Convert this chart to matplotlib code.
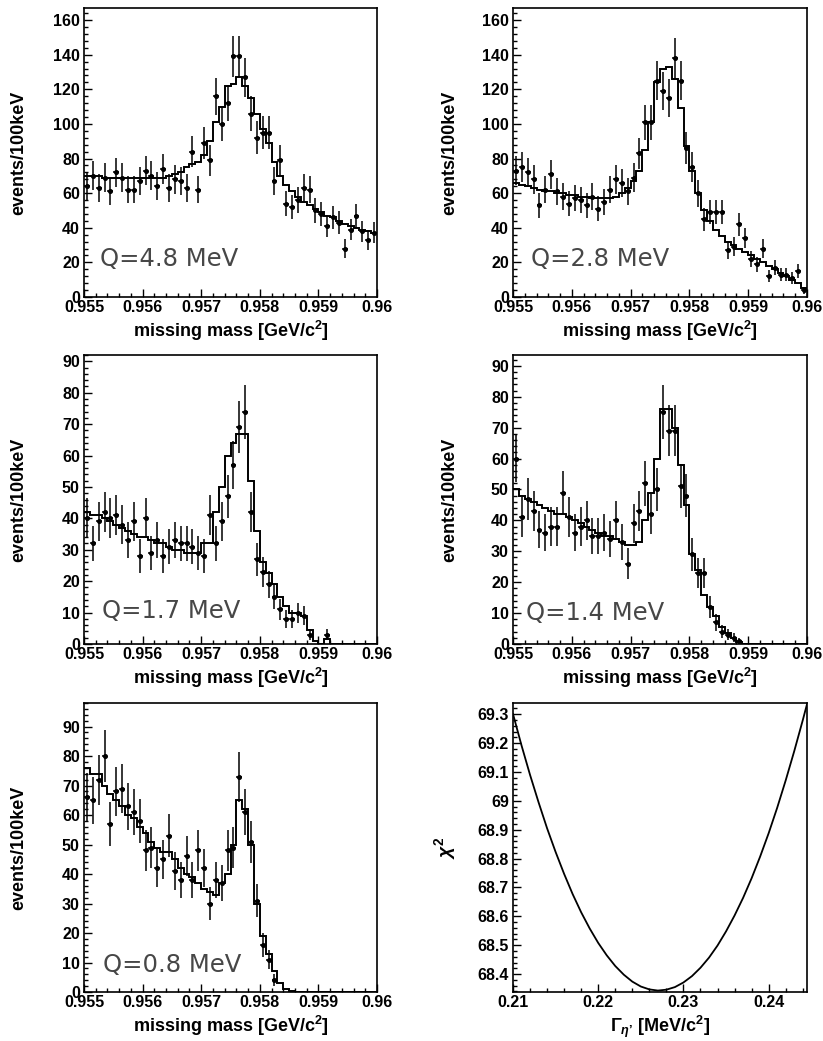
import numpy as np
import matplotlib
matplotlib.use('Agg')
import matplotlib.pyplot as plt
from matplotlib.ticker import MultipleLocator, FuncFormatter

plt.rcParams['font.family'] = ['Liberation Sans', 'DejaVu Sans']
plt.rcParams['mathtext.fontset'] = 'custom'
plt.rcParams['mathtext.rm'] = 'Liberation Sans:bold'
plt.rcParams['mathtext.it'] = 'Liberation Sans:italic:bold'
plt.rcParams['mathtext.bf'] = 'Liberation Sans:bold'

# 100 keV bins from 0.955 to 0.960 GeV/c^2
edges = np.linspace(0.955, 0.960, 51)
centers = 0.5 * (edges[:-1] + edges[1:])

q_labels = ['Q=4.8 MeV', 'Q=2.8 MeV', 'Q=1.7 MeV', 'Q=1.4 MeV', 'Q=0.8 MeV']

# measured counts per bin (0 = empty bin)
data_48 = [64, 70, 63, 69, 61, 72, 69, 62, 62, 67,
           73, 70, 64, 74, 63, 68, 67, 63, 84, 62,
           89, 79, 116, 100, 112, 139, 139, 127, 106, 92,
           95, 95, 67, 79, 54, 52, 56, 63, 62, 50,
           48, 41, 46, 43, 28, 39, 47, 38, 33, 37]
data_28 = [73, 75, 72, 68, 53, 62, 71, 61, 58, 54,
           57, 56, 53, 58, 51, 55, 62, 68, 66, 61,
           69, 83, 101, 101, 125, 119, 115, 138, 125, 86,
           75, 60, 45, 49, 49, 49, 27, 29, 42, 34,
           22, 19, 28, 12, 17, 13, 13, 11, 15, 4]
data_17 = [40, 32, 39, 42, 40, 41, 38, 33, 39, 28,
           40, 29, 33, 28, 31, 33, 32, 32, 31, 29,
           28, 41, 32, 39, 47, 57, 69, 74, 42, 27,
           23, 19, 15, 11, 8, 8, 10, 9, 3, 0,
           0, 3, 0, 0, 0, 0, 0, 0, 0, 0]
data_14 = [60, 41, 47, 43, 37, 36, 38, 38, 49, 41,
           36, 38, 40, 35, 35, 36, 34, 40, 33, 26,
           39, 43, 52, 42, 50, 75, 69, 69, 51, 48,
           29, 23, 23, 12, 7, 4, 3, 2, 1, 0,
           0, 0, 0, 0, 0, 0, 0, 0, 0, 0]
data_08 = [66, 65, 72, 80, 57, 68, 69, 63, 61, 58,
           48, 49, 42, 45, 53, 41, 38, 46, 38, 48,
           42, 30, 38, 37, 48, 49, 73, 61, 51, 31,
           16, 11, 4, 0, 0, 0, 0, 0, 0, 0,
           0, 0, 0, 0, 0, 0, 0, 0, 0, 0]

# fitted / simulated spectra
fit_48 = [70, 70, 70, 69, 69, 69, 69, 69, 69, 69,
          69, 69, 69, 69, 70, 71, 72, 75, 77, 78,
          82, 90, 101, 110, 122, 123, 127, 122, 115, 106,
          97, 89, 78, 70, 65, 61, 58, 55, 53, 51,
          49, 47, 46, 44, 42, 41, 40, 39, 38, 37]
fit_28 = [66, 65, 64, 63, 62, 61, 61, 60, 60, 59,
          59, 58, 58, 57, 57, 57, 57, 58, 60, 63,
          67, 73, 85, 101, 124, 132, 133, 126, 109, 87,
          73, 60, 50, 44, 39, 35, 32, 30, 28, 26,
          24, 22, 20, 18, 16, 14, 12, 10, 8, 5]
fit_17 = [42, 41, 41, 40, 39, 38, 37, 36, 35, 34,
          34, 33, 32, 32, 31, 30, 30, 29, 29, 29,
          32, 32, 42, 50, 60, 64, 67, 67, 52, 36,
          26, 22.5, 19, 15, 12, 10, 10, 9, 4.5, 1,
          0, 1.6, 0, 0, 0, 0, 0, 0, 0, 0]
fit_14 = [50, 48, 47, 46, 45, 44, 43, 42, 42, 41,
          40, 39, 38, 37, 36, 35, 35, 34, 33, 32,
          32, 33, 40, 49, 60, 76, 76, 70, 58, 45,
          29, 24, 16, 12, 9, 5.5, 3.5, 2, 0.7, 0,
          0, 0, 0, 0, 0, 0, 0, 0, 0, 0]
fit_08 = [76, 74, 74, 70, 67, 65, 63, 60, 59, 56,
          54, 51, 49, 47.5, 47.5, 45, 42, 40, 39, 37,
          35, 34, 33, 37, 40, 50, 65, 62, 50, 30,
          19, 13, 7, 3, 1, 0.3, 0, 0, 0, 0,
          0, 0, 0, 0, 0, 0, 0, 0, 0, 0]

# chi^2 scan versus eta' width
gamma = [0.210, 0.211, 0.212, 0.213, 0.214, 0.215, 0.216, 0.217, 0.218,
         0.219, 0.220, 0.221, 0.222, 0.223, 0.224, 0.225, 0.226, 0.227,
         0.228, 0.229, 0.230, 0.231, 0.232, 0.233, 0.234, 0.235, 0.236,
         0.237, 0.238, 0.239, 0.240, 0.241, 0.242, 0.243, 0.244, 0.2445]
chi2 = [69.301, 69.192, 69.090, 68.995, 68.905, 68.823, 68.747, 68.677, 68.614,
        68.558, 68.508, 68.465, 68.428, 68.398, 68.374, 68.357, 68.347, 68.343,
        68.346, 68.355, 68.371, 68.393, 68.422, 68.457, 68.499, 68.548, 68.603,
        68.664, 68.732, 68.807, 68.888, 68.976, 69.071, 69.172, 69.279, 69.335]

datas = [data_48, data_28, data_17, data_14, data_08]
fits = [fit_48, fit_28, fit_17, fit_14, fit_08]
ymaxes = [167, 167, 92, 93.5, 98]
ymajor = [20, 20, 10, 10, 10]
q_pos = [(0.055, 0.107), (0.06, 0.107), (0.06, 0.09), (0.045, 0.083), (0.065, 0.07)]

W, H = 823, 1041
lefts = [84, 513]
widths = [293, 294]
tops = [8, 355, 703]
ax_h = 289


def g_fmt(v, pos):
    return '%g' % round(v, 6)


def style_axis(ax, xmaj, xmin, ymaj, ymin):
    ax.xaxis.set_major_locator(MultipleLocator(xmaj))
    ax.xaxis.set_minor_locator(MultipleLocator(xmin))
    ax.yaxis.set_major_locator(MultipleLocator(ymaj))
    ax.yaxis.set_minor_locator(MultipleLocator(ymin))
    ax.xaxis.set_major_formatter(FuncFormatter(g_fmt))
    ax.yaxis.set_major_formatter(FuncFormatter(g_fmt))
    ax.tick_params(which='both', direction='in', top=False, right=False,
                   width=1.0, labelsize=11.5)
    ax.tick_params(which='major', length=6)
    ax.tick_params(which='minor', length=3)
    ax.tick_params(axis='x', pad=2)
    ax.tick_params(axis='y', pad=3)
    for lab in ax.get_xticklabels() + ax.get_yticklabels():
        lab.set_fontweight('bold')
    for sp in ax.spines.values():
        sp.set_linewidth(1.2)


fig = plt.figure(figsize=(W / 100, H / 100), dpi=100)

for k in range(6):
    row, col = divmod(k, 2)
    rect = [lefts[col] / W, 1 - (tops[row] + ax_h) / H, widths[col] / W, ax_h / H]
    ax = fig.add_axes(rect)

    if k < 5:
        counts = np.array(datas[k], dtype=float)
        ax.stairs(fits[k], edges, baseline=None, color='black', lw=1.4)
        m = counts > 0
        ax.errorbar(centers[m], counts[m], yerr=np.sqrt(counts[m]),
                    xerr=0.00005, fmt='o', ms=2.6, color='black',
                    elinewidth=1.1, capsize=0)
        ax.set_xlim(0.955, 0.960)
        ax.set_ylim(0, ymaxes[k])
        style_axis(ax, 0.001, 0.0002, ymajor[k], ymajor[k] / 5)
        ax.text(q_pos[k][0], q_pos[k][1], q_labels[k], transform=ax.transAxes,
                fontsize=17.5, color='#474747', family='DejaVu Sans')
        ax.set_xlabel('missing mass [GeV/c$^2$]', fontsize=13, fontweight='bold')
        ax.set_ylabel('events/100keV', fontsize=13, fontweight='bold')
    else:
        ax.plot(gamma, chi2, color='black', lw=1.3)
        ax.set_xlim(0.21, 0.2445)
        ax.set_ylim(68.338, 69.339)
        style_axis(ax, 0.01, 0.002, 0.1, 0.02)
        ax.set_xlabel('$\\Gamma_{\\eta\u2019}$ [MeV/c$^2$]', fontsize=13, fontweight='bold')
        ax.set_ylabel(r'$\chi^2$', fontsize=14)

    ax.xaxis.set_label_coords(0.5, -0.075)
    ax.yaxis.set_label_coords(-0.195 if col == 0 else -0.187, 0.5)

fig.savefig('out.png', dpi=100)
